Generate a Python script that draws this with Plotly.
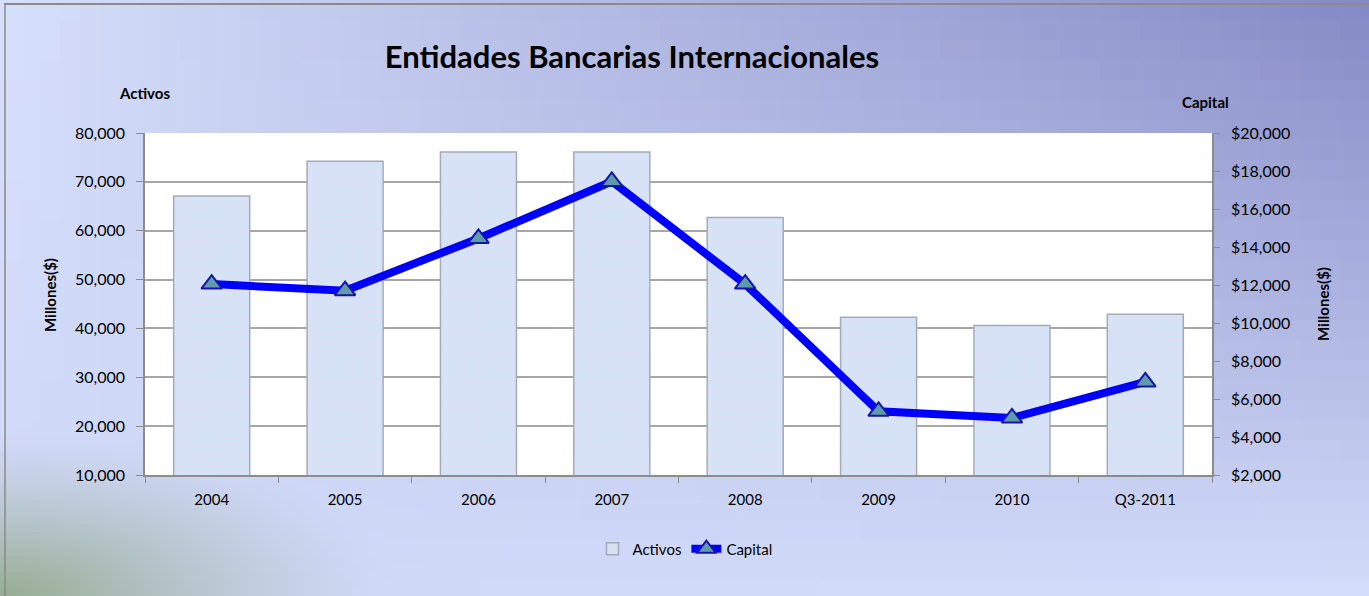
import plotly.graph_objects as go
import math

categories = ["2004", "2005", "2006", "2007", "2008", "2009", "2010", "Q3-2011"]
activos = [67100, 74200, 76100, 76100, 62700, 42300, 40600, 42900]
capital = [12050, 11700, 14450, 17450, 12050, 5350, 5000, 6900]

W, H = 1369, 596
L, R, T, B = 145, 157, 133, 121
PW, PH = W - L - R, H - T - B


def px2x(px):
    return (px - L) / PW


def px2y(py):
    return (H - B - py) / PH


fig = go.Figure()
fig.add_trace(go.Bar(
    x=categories, y=activos, name="Activos", yaxis="y",
    width=0.57,
    marker=dict(color="#d8e5f7", line=dict(color="#a3abbb", width=1.5),
                pattern=dict(shape=".", fgcolor="#ead8f2", bgcolor="#d3e4f7",
                             size=7, solidity=0.35)),
))
fig.add_trace(go.Scatter(
    x=categories, y=capital, name="Capital", yaxis="y2", mode="lines+markers",
    line=dict(color="#0000ff", width=8),
    marker=dict(symbol="triangle-up", size=18, color="#5f9cab",
                line=dict(color="#1515a8", width=2)),
))

# background gradient (paper)
TL = (214, 223, 251); TR = (132, 136, 196); BL = (208, 216, 248); BR = (212, 221, 251)
G = (150, 172, 145)


def colour(cx, cy):
    u, v = min(cx / W, 1), min(cy / H, 1)
    c = [TL[k]*(1-u)*(1-v) + TR[k]*u*(1-v) + BL[k]*(1-u)*v + BR[k]*u*v for k in range(3)]
    d = math.hypot(cx, (H - cy) * 2.4)
    g = max(0.0, 1 - d / 400) ** 1.3
    return "rgb(%d,%d,%d)" % tuple(int(round(c[k]*(1-g) + G[k]*g)) for k in range(3))


shapes = []


def cells(x0, x1, y0, y1, step):
    x = x0
    while x < x1:
        y = y0
        while y < y1:
            shapes.append(dict(type="rect", xref="paper", yref="paper", layer="below",
                               x0=px2x(x), x1=px2x(min(x + step, x1) + 1),
                               y0=px2y(min(y + step, y1) + 1), y1=px2y(y),
                               line=dict(width=0),
                               fillcolor=colour(x + step / 2, y + step / 2)))
            y += step
        x += step


cells(0, W, 0, 420, 20)
cells(420, W, 420, H, 20)
cells(0, 420, 420, H, 8)

# white plot area
shapes.append(dict(type="rect", xref="paper", yref="paper", layer="below",
                   x0=0, x1=1, y0=0, y1=1, line=dict(width=0), fillcolor="#ffffff"))
# border
shapes.append(dict(type="line", xref="paper", yref="paper", x0=px2x(4), x1=px2x(W),
                   y0=px2y(4), y1=px2y(4), line=dict(color="#8a8a8a", width=2)))
shapes.append(dict(type="line", xref="paper", yref="paper", x0=px2x(5), x1=px2x(5),
                   y0=px2y(4), y1=px2y(H), line=dict(color="#8a8a8a", width=1.5)))

font = "Lato, 'Open Sans', sans-serif"
annotations = [
    dict(text="<b>Activos</b>", x=px2x(144), y=px2y(93), xref="paper", yref="paper", showarrow=False,
         font=dict(size=15, color="#000"), xanchor="center", yanchor="middle"),
    dict(text="<b>Capital</b>", x=px2x(1205), y=px2y(102), xref="paper", yref="paper", showarrow=False,
         font=dict(size=15, color="#000"), xanchor="center", yanchor="middle"),
    dict(text="<b>Millones($)</b>", x=px2x(50), y=px2y(295), xref="paper", yref="paper", showarrow=False,
         textangle=-90, font=dict(size=15, color="#000"), xanchor="center", yanchor="middle"),
    dict(text="<b>Millones($)</b>", x=px2x(1323), y=px2y(304), xref="paper", yref="paper", showarrow=False,
         textangle=-90, font=dict(size=15, color="#000"), xanchor="center", yanchor="middle"),
]

fig.update_layout(
    width=W, height=H,
    margin=dict(l=L, r=R, t=T, b=B, autoexpand=False),
    paper_bgcolor="#d5def9", plot_bgcolor="#ffffff",
    font=dict(family=font, size=16, color="#000"),
    title=dict(text="<b>Entidades Bancarias Internacionales</b>", x=632/W, y=1-57/H,
               xanchor="center", yanchor="middle", font=dict(size=31, color="#000")),
    xaxis=dict(type="category", tickson="boundaries", ticks="outside", ticklen=6,
               tickcolor="#8c8c8c", showline=True, linecolor="#8c8c8c", linewidth=1.5,
               showgrid=False, range=[-0.5, 7.5], tickfont=dict(size=15),
               ticklabelstandoff=10),
    yaxis=dict(range=[10000, 80000], dtick=10000, tickformat=",", ticks="outside", ticklen=7,
               tickcolor="#8c8c8c", showline=True, linecolor="#8c8c8c", linewidth=1.5,
               gridcolor="#a6a6a6", gridwidth=1.5, zeroline=False, ticklabelstandoff=8),
    yaxis2=dict(range=[2000, 20000], dtick=2000, tickformat=",", tickprefix="$", overlaying="y",
                side="right", ticks="outside", ticklen=6, tickcolor="#8c8c8c", showline=True,
                linecolor="#8c8c8c", linewidth=1.5, showgrid=False, zeroline=False,
                ticklabelstandoff=8),
    legend=dict(orientation="h", x=px2x(685), y=px2y(549), xanchor="center", yanchor="middle",
                bgcolor="rgba(0,0,0,0)", font=dict(size=15), traceorder="normal"),
    showlegend=True, bargap=0.43,
    shapes=shapes, annotations=annotations,
)

fig.write_html("out.html", config={"displayModeBar": False},
               post_script="document.body.style.margin='0';document.body.style.overflow='hidden';")
